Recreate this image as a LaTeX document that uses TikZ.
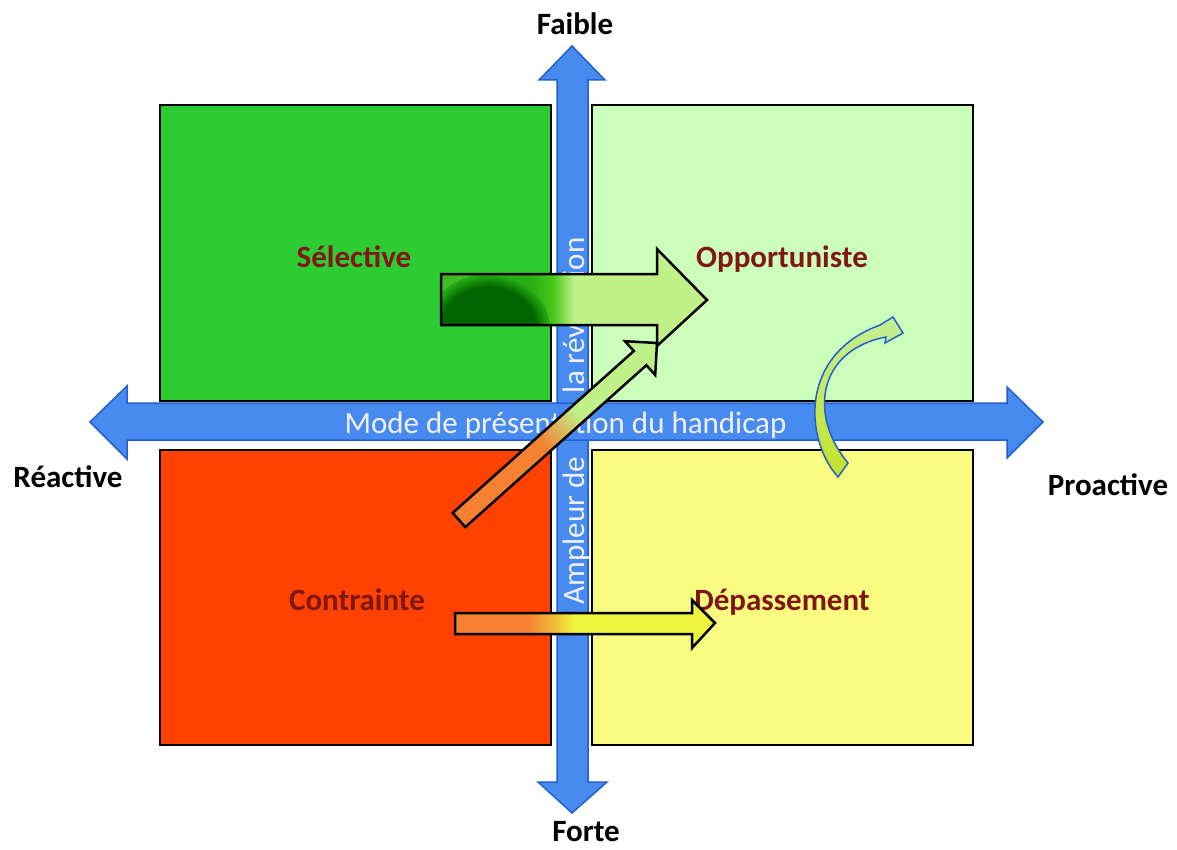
\documentclass[tikz,border=0pt]{standalone}
\usepackage{fontspec}
\setmainfont{Carlito}
\definecolor{cGreen}{RGB}{46,204,51}
\definecolor{cLight}{RGB}{204,255,187}
\definecolor{cRed}{RGB}{255,66,0}
\definecolor{cYellow}{RGB}{249,252,128}
\definecolor{cBlue}{RGB}{72,139,240}
\definecolor{cBlueDark}{RGB}{36,96,205}
\definecolor{cLabel}{RGB}{128,22,22}
\definecolor{cOrange}{RGB}{244,130,50}
\definecolor{cLG}{RGB}{192,240,136}
\definecolor{cYA}{RGB}{238,246,62}
\definecolor{cDark}{RGB}{0,100,0}
\definecolor{cMid}{RGB}{40,175,20}
\definecolor{cBright}{RGB}{70,200,25}
\definecolor{cHigh}{RGB}{190,245,130}
\definecolor{cCurveTop}{RGB}{195,240,150}
\definecolor{cCurveBot}{RGB}{198,226,40}
\pgfdeclarehorizontalshading{bigshade}{100bp}{color(0bp)=(cMid); color(25bp)=(cMid); color(42bp)=(cMid); color(46bp)=(cBright); color(50bp)=(cLG); color(100bp)=(cLG)}
\pgfdeclarehorizontalshading{lowshade}{100bp}{color(0bp)=(cOrange); color(39bp)=(cOrange); color(44bp)=(cOrange!50!cYA); color(48bp)=(cYA); color(100bp)=(cYA)}
\pgfdeclarehorizontalshading{diagshade}{100bp}{color(0bp)=(cOrange); color(46bp)=(cOrange); color(58bp)=(cLG); color(100bp)=(cLG)}
\pgfdeclareradialshading{blobshade}{\pgfpoint{0bp}{0bp}}{color(0bp)=(cDark); color(19bp)=(cDark); color(25bp)=(cMid); color(50bp)=(cMid)}
\pgfdeclareradialshading{highshade}{\pgfpoint{0bp}{0bp}}{color(0bp)=(cHigh); color(8bp)=(cHigh!70!cMid); color(25bp)=(cMid); color(50bp)=(cMid)}
\tikzset{
  quad/.style={draw=black, line width=2.5pt},
  axisarrow/.style={fill=cBlue, draw=cBlueDark, line width=1.5pt, line join=miter},
  axistext/.style={text=white!94!blue, font=\fontsize{31}{31}\selectfont, inner sep=0pt},
  qlabel/.style={text=cLabel, font=\fontsize{31}{31}\selectfont\bfseries, inner sep=0pt},
  polelabel/.style={text=black, font=\fontsize{31}{31}\selectfont\bfseries, inner sep=0pt},
  flowarrow/.style={draw=black, line width=2.5pt, line join=miter},
  curvearrow/.style={draw=cBlueDark, line width=1.5pt, top color=cCurveTop, bottom color=cCurveBot}
}
\begin{document}
\begin{tikzpicture}[x=1pt,y=-1pt]
\useasboundingbox (0,0) rectangle (1177,850);
\fill[white] (0,0) rectangle (1177,850);
% quadrants
\draw[quad, fill=cGreen] (160,105) rectangle (551,401);
\draw[quad, fill=cLight] (592,105) rectangle (973,401);
\draw[quad, fill=cRed] (160,450) rectangle (551,745);
\draw[quad, fill=cYellow] (592,450) rectangle (973,745);
% vertical axis
\draw[axisarrow] (572,46) -- (605,80) -- (588,80) -- (588,782) -- (607,782) -- (572,813) -- (538,782) -- (557,782) -- (557,80) -- (539,80) -- cycle;
\node[axistext, rotate=90, anchor=base] (vtext) at (584,421) {Ampleur de\hspace{64pt}la révélation};
% horizontal axis
\draw[axisarrow] (90,422) -- (127,386) -- (127,403) -- (1007,403) -- (1007,387) -- (1043,422) -- (1007,458) -- (1007,440) -- (127,440) -- (127,459) -- cycle;
\node[axistext, anchor=base] (htext) at (565.5,433) {Mode de présentation du handicap};
% pole labels
\node[polelabel, anchor=base] (faible) at (575,35) {Faible};
\node[polelabel, anchor=base] (forte) at (586,841) {Forte};
\node[polelabel, anchor=base] (reactive) at (68,487) {Réactive};
\node[polelabel, anchor=base] (proactive) at (1108,495) {Proactive};
% quadrant labels
\node[qlabel, anchor=base] (sel) at (354,267) {Sélective};
\node[qlabel, anchor=base] (opp) at (782,267) {Opportuniste};
\node[qlabel, anchor=base] (con) at (357,610) {Contrainte};
\node[qlabel, anchor=base] (dep) at (782,610) {Dépassement};
% diagonal arrow
\draw[flowarrow, shading=diagshade, shading angle=41.8] (452.7,512.9) -- (633.8,351.0) -- (625.0,341.2) -- (657,343) -- (655.2,375.0) -- (646.4,365.2) -- (465.3,527.1) -- cycle;
% big green arrow
\draw[flowarrow, shading=bigshade, path picture={
    \shade[shading=highshade] (441,274) ellipse [x radius=28, y radius=22];
    \shade[shading=blobshade] (488,328) ellipse [x radius=62, y radius=54];
  }] (441,274) -- (657,274) -- (657,249) -- (707,300) -- (657,346) -- (657,325) -- (441,325) -- cycle;
% lower arrow
\draw[flowarrow, shading=lowshade] (455,613) -- (692,613) -- (692,600) -- (715,623) -- (692,648) -- (692,634) -- (455,634) -- cycle;
% curved arrow
\draw[curvearrow] (838,477) .. controls (805,440) and (798,355) .. (880,325) -- (893,317) -- (903,333) -- (885,343) -- (886,337) .. controls (818,350) and (808,415) .. (848,463) -- cycle;
\end{tikzpicture}
\end{document}
